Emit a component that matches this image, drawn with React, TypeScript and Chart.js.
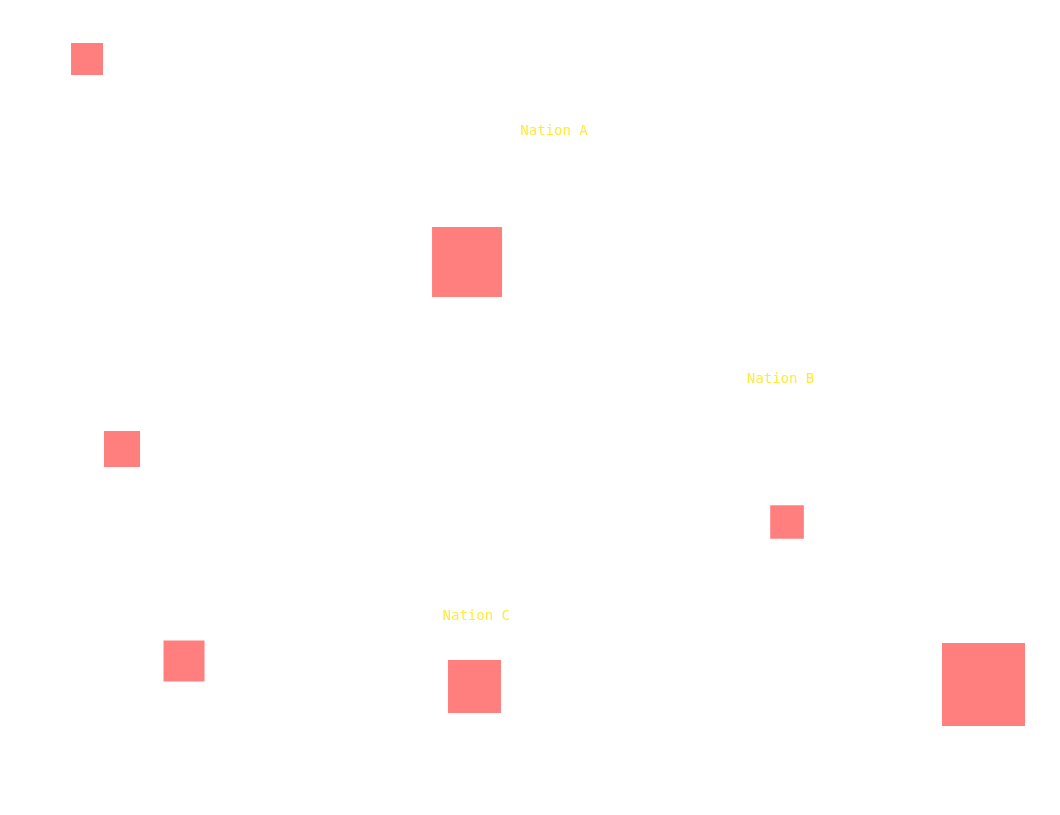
import React, { useEffect, useRef } from "react";
import { Chart, registerables } from "chart.js";

Chart.register(...registerables);

// Bubble data (x, y on a 0–100 scale; r = radius in px)
const xValues = [7.57, 43.97, 10.92, 74.62, 16.86, 44.68, 93.44];
const yValues = [93.62, 68.21, 44.81, 35.67, 18.27, 15.08, 15.33];
const rValues = [22.6, 49.5, 25.5, 23.8, 29.0, 37.5, 58.7];

// Text labels placed in data space
const labelNames = ["Nation A", "Nation B", "Nation C"];
const labelX = [52.3, 74.0, 44.85];
const labelY = [84.6, 53.56, 23.9];

const labelPlugin = {
  id: "nationLabels",
  afterDatasetsDraw(chart: any) {
    const { ctx, scales } = chart;
    ctx.save();
    ctx.font = "14px 'DejaVu Sans Mono', monospace";
    ctx.fillStyle = "#FFEB3B";
    ctx.textAlign = "center";
    ctx.textBaseline = "middle";
    labelNames.forEach((name, i) => {
      ctx.fillText(name, scales.x.getPixelForValue(labelX[i]), scales.y.getPixelForValue(labelY[i]));
    });
    ctx.restore();
  },
};

export default function App() {
  const ref = useRef<HTMLCanvasElement>(null);
  useEffect(() => {
    if (!ref.current) return;
    const chart = new Chart(ref.current, {
      type: "bubble",
      data: {
        datasets: [
          {
            label: "Nations",
            data: xValues.map((x, i) => ({ x, y: yValues[i], r: rValues[i] })),
            backgroundColor: "rgba(255,0,0,0.5)",
            borderWidth: 0,
            pointStyle: "rect",
            clip: false,
          },
        ],
      },
      options: {
        animation: false,
        responsive: true,
        maintainAspectRatio: false,
        layout: { padding: 0, autoPadding: false },
        plugins: { legend: { display: false }, tooltip: { enabled: false } },
        scales: {
          x: { type: "linear", min: 0, max: 100, display: false },
          y: { type: "linear", min: 0, max: 100, display: false },
        },
      },
      plugins: [labelPlugin],
    });
    return () => chart.destroy();
  }, []);
  return (
    <div style={{ position: "relative", width: "1044px", height: "799px" }}>
      <canvas ref={ref} />
    </div>
  );
}
